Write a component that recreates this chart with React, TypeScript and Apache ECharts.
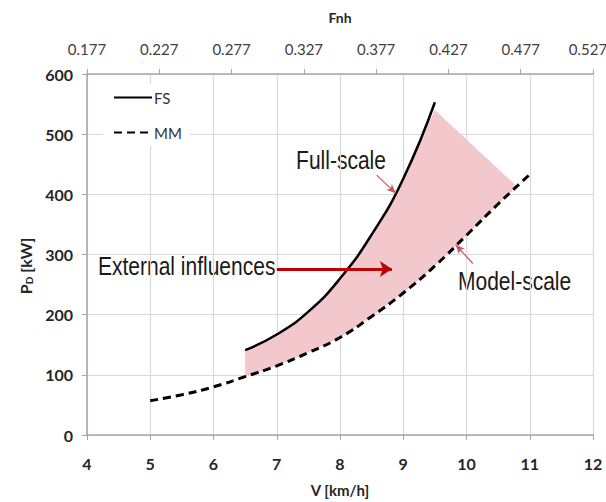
import React, { useEffect, useRef } from "react";
import * as echarts from "echarts";

// Full-scale (FS) power curve: speed V [km/h] vs delivered power P_D [kW]
const FS_V = [6.5, 7, 7.5, 8, 8.5, 9, 9.5];
const FS_P = [141, 167, 205, 260, 333, 426, 553];

// Model-scale extrapolated (MM) power curve
const MM_V = [5, 5.5, 6, 6.5, 7, 7.5, 8, 8.5, 9, 9.5, 10, 10.5, 11];
const MM_P = [57, 67, 80, 97, 115, 137, 162, 197, 236, 281, 332, 384, 433];

// Corners closing the "external influences" band (V, P)
const SHADE_CORNERS = [
  [9.5, 540],
  [10.8, 413],
];

// Top axis (Froude depth number) tick labels
const FNH_LABELS = ["0.177", "0.227", "0.277", "0.327", "0.377", "0.427", "0.477", "0.527"];

// Annotation arrows in data coordinates (V, P)
const ARROW_EXTERNAL = [[7.0, 276], [8.82, 276]];
const ARROW_FULL = [[8.58, 432], [8.88, 402]];
const ARROW_MODEL = [[10.1, 285], [9.83, 316]];

export default function App() {
  const ref = useRef<HTMLDivElement>(null);

  useEffect(() => {
    if (!ref.current) return;
    const chart = echarts.init(ref.current, null, { renderer: "svg" });

    const fsData = FS_V.map((v, i) => [v, FS_P[i]]);
    const mmData = MM_V.map((v, i) => [v, MM_P[i]]);
    const shadePoints: number[][] = [];
    FS_V.forEach((v, i) => {
      if (v < 9.5) shadePoints.push([v, FS_P[i]]);
    });
    SHADE_CORNERS.forEach((p) => shadePoints.push(p));
    for (let i = MM_V.length - 1; i >= 0; i--) {
      if (MM_V[i] >= 6.5 && MM_V[i] < SHADE_CORNERS[1][0]) shadePoints.push([MM_V[i], MM_P[i]]);
    }

    const axisGray = "#a6a6a6";
    const gridGray = "#d9d9d9";
    const labelFont = "Lato";
    const noteFont = "Liberation Sans";
    const noteStyle = { fontFamily: noteFont, fontSize: 21, fill: "#1a1a1a", verticalAlign: "middle" };
    const lastIdx = FNH_LABELS.length - 1;

    chart.setOption({
      animation: false,
      backgroundColor: "#ffffff",
      grid: { left: 87, right: 13, top: 74, bottom: 67, containLabel: false, outerBoundsMode: "none" },
      legend: {
        orient: "vertical",
        left: 103,
        top: 84,
        data: ["FS", "MM"],
        itemWidth: 38,
        itemHeight: 14,
        itemGap: 20,
        backgroundColor: "#ffffff",
        padding: [6, 8, 6, 10],
        itemStyle: { opacity: 0, borderWidth: 0 },
        textStyle: { fontFamily: labelFont, fontSize: 15, color: "#333333", padding: [0, 0, 0, -3] },
      },
      xAxis: [
        {
          type: "value",
          position: "bottom",
          min: 4,
          max: 12,
          interval: 1,
          axisLine: { show: true, onZero: false, lineStyle: { color: axisGray, width: 1.5 } },
          axisTick: { show: true, length: 5, lineStyle: { color: axisGray } },
          axisLabel: { fontFamily: labelFont, fontSize: 16, fontWeight: "bold", color: "#262626", margin: 20 },
          splitLine: { show: true, lineStyle: { color: gridGray, width: 1.2 } },
          name: "V [km/h]",
          nameLocation: "middle",
          nameGap: 47,
          nameTextStyle: { fontFamily: labelFont, fontSize: 15, fontWeight: "bold", color: "#262626" },
        },
        {
          type: "value",
          position: "top",
          min: 0,
          max: lastIdx,
          interval: 1,
          axisLine: { show: true, onZero: false, lineStyle: { color: axisGray, width: 1.5 } },
          axisTick: { show: true, length: 5, lineStyle: { color: axisGray } },
          axisLabel: {
            fontFamily: labelFont,
            fontSize: 15,
            color: "#404040",
            margin: 18,
            formatter: (v: number) => {
              const i = Math.round(v);
              const s = FNH_LABELS[i] ?? "";
              return i === lastIdx ? `{last|${s}}` : s;
            },
            rich: {
              last: { fontFamily: labelFont, fontSize: 15, color: "#404040", padding: [0, 10, 0, 0] },
            },
          },
          splitLine: { show: false },
          name: "Fnh",
          nameLocation: "middle",
          nameGap: 50,
          nameTextStyle: { fontFamily: labelFont, fontSize: 14, fontWeight: "bold", color: "#262626" },
        },
      ],
      yAxis: {
        type: "value",
        min: 0,
        max: 600,
        interval: 100,
        axisLine: { show: true, lineStyle: { color: axisGray, width: 1.5 } },
        axisTick: { show: true, length: 5, lineStyle: { color: axisGray } },
        axisLabel: { fontFamily: labelFont, fontSize: 16, fontWeight: "bold", color: "#262626", margin: 14 },
        splitLine: { show: true, lineStyle: { color: gridGray, width: 1.2 } },
      },
      graphic: [
        {
          type: "text",
          x: 25,
          y: 266,
          rotation: Math.PI / 2,
          style: {
            text: "{p|P}{d|D}{p| [kW]}",
            align: "center",
            verticalAlign: "middle",
            rich: {
              p: { fontFamily: labelFont, fontSize: 16, fontWeight: "bold", fill: "#262626" },
              d: { fontFamily: labelFont, fontSize: 10, fontWeight: "bold", fill: "#262626", padding: [8, 0, 0, 0] },
            },
          },
        },
        {
          type: "text",
          x: 341,
          y: 160,
          scaleY: 1.25,
          style: { ...noteStyle, text: "Full-scale", align: "center" },
        },
        {
          type: "text",
          x: 98,
          y: 266,
          scaleY: 1.25,
          style: { ...noteStyle, text: "External influences", align: "left" },
        },
        {
          type: "text",
          x: 458,
          y: 281,
          scaleY: 1.25,
          style: { ...noteStyle, text: "Model-scale", align: "left" },
        },
      ],
      series: [
        {
          type: "custom",
          name: "band",
          z: 1,
          silent: true,
          xAxisIndex: 0,
          yAxisIndex: 0,
          data: [[6.5, 100]],
          renderItem: (_params: any, api: any) => ({
            type: "polygon",
            shape: { points: shadePoints.map((p) => api.coord(p)) },
            style: { fill: "#f3c8cd", stroke: "none" },
          }),
        },
        {
          type: "line",
          name: "FS",
          data: fsData,
          smooth: true,
          symbol: "none",
          z: 3,
          lineStyle: { color: "#000000", width: 2.5 },
          itemStyle: { color: "#000000" },
          markLine: {
            silent: true,
            symbol: ["none", "arrow"],
            label: { show: false },
            data: [
              [
                { coord: ARROW_EXTERNAL[0], lineStyle: { color: "#c00000", width: 3, type: "solid" } },
                { coord: ARROW_EXTERNAL[1], symbolSize: [12, 12] },
              ],
              [
                { coord: ARROW_FULL[0], lineStyle: { color: "#c9555e", width: 1.2, type: "solid" } },
                { coord: ARROW_FULL[1], symbolSize: [6, 9] },
              ],
              [
                { coord: ARROW_MODEL[0], lineStyle: { color: "#c9555e", width: 1.2, type: "solid" } },
                { coord: ARROW_MODEL[1], symbolSize: [6, 9] },
              ],
            ],
          },
        },
        {
          type: "line",
          name: "MM",
          data: mmData,
          smooth: true,
          symbol: "none",
          z: 3,
          lineStyle: { color: "#000000", width: 3, type: [8, 5] },
          itemStyle: { color: "#000000" },
        },
      ],
    });

    return () => chart.dispose();
  }, []);

  return (
    <div
      ref={ref}
      style={{ position: "fixed", left: 0, top: 0, width: 606, height: 502, background: "#ffffff" }}
    />
  );
}
